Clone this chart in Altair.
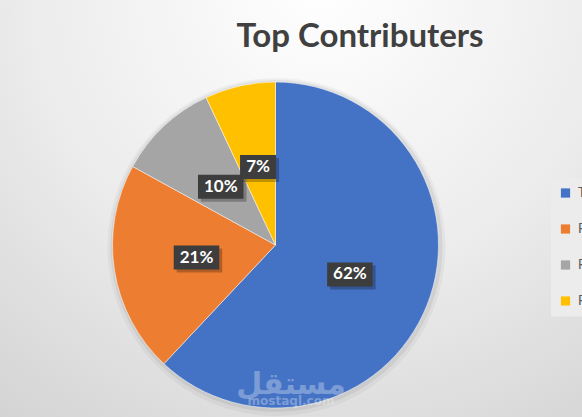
import math
import altair as alt
import pandas as pd

TITLE = "Top Contributers"
CATEGORIES = ["Team", "Freelancer A", "Freelancer B", "Freelancer C"]
VALUES = [62, 21, 10, 7]
COLORS = ["#4472C4", "#ED7D31", "#A5A5A5", "#FFC000"]
WATERMARK_AR = "مستقل"
WATERMARK_EN = "mostaql.com"

W, H = 582, 417
CX, CY, R = 275.5, 245, 163
LABEL_R = 80
FONT = "Lato"

df = pd.DataFrame({"category": CATEGORIES, "value": VALUES, "order": list(range(len(VALUES)))})
one = pd.DataFrame({"k": [0]})

bg = alt.Chart(one).mark_rect(
    color={
        "gradient": "radial",
        "stops": [
            {"offset": 0, "color": "#ffffff"},
            {"offset": 0.5, "color": "#ececec"},
            {"offset": 1, "color": "#cfcfcf"},
        ],
        "x1": 0.55, "y1": 0.12, "r1": 0,
        "x2": 0.55, "y2": 0.12, "r2": 1.0,
    }
).encode(x=alt.value(0), x2=alt.value(W), y=alt.value(0), y2=alt.value(H))

shadow1 = alt.Chart(one).mark_arc(
    theta=0, theta2=2 * math.pi, outerRadius=R + 6, color="#000000", opacity=0.04
).encode(x=alt.value(CX + 1), y=alt.value(CY + 2))
shadow2 = alt.Chart(one).mark_arc(
    theta=0, theta2=2 * math.pi, outerRadius=R + 3, color="#000000", opacity=0.06
).encode(x=alt.value(CX + 1), y=alt.value(CY + 1))

pie = alt.Chart(df).mark_arc(outerRadius=R, stroke="#ffffff", strokeWidth=0.5).encode(
    theta=alt.Theta("value:Q", stack=True),
    color=alt.Color(
        "category:N",
        scale=alt.Scale(domain=CATEGORIES, range=COLORS),
        sort=CATEGORIES,
        legend=alt.Legend(
            orient="none", legendX=551, legendY=178.5, title=None,
            symbolType="square", symbolSize=85, symbolStrokeWidth=0,
            labelFontSize=13, labelColor="#595959", labelFont=FONT,
            rowPadding=22, padding=8, fillColor="#ececec", labelOffset=6,
        ),
    ),
    order=alt.Order("order:Q"),
    x=alt.value(CX),
    y=alt.value(CY),
)

labels = alt.Chart(df).transform_window(
    cum="sum(value)", sort=[alt.SortField("order")], frame=[None, 0]
).transform_joinaggregate(
    total="sum(value)"
).transform_calculate(
    ang="2*PI*(datum.cum - datum.value/2)/datum.total",
    pct="format(datum.value/datum.total, '.0%')",
).transform_calculate(
    lx=f"{CX} + {LABEL_R}*sin(datum.ang)",
    ly=f"{CY} - {LABEL_R}*cos(datum.ang)",
    bw="length(datum.pct)*9.5 + 17",
).transform_calculate(
    bx1="datum.lx - datum.bw/2",
    bx2="datum.lx + datum.bw/2",
    by1="datum.ly - 12",
    by2="datum.ly + 12",
    sx1="datum.lx - datum.bw/2 + 3",
    sx2="datum.lx + datum.bw/2 + 3",
    sy1="datum.ly - 12 + 3",
    sy2="datum.ly + 12 + 3",
)

box_shadow = labels.mark_rect(color="#000000", opacity=0.25).encode(
    x=alt.X("sx1:Q", scale=None, axis=None), x2="sx2:Q",
    y=alt.Y("sy1:Q", scale=None, axis=None), y2="sy2:Q",
)
boxes = labels.mark_rect(color="#3d3d3d").encode(
    x=alt.X("bx1:Q", scale=None, axis=None), x2="bx2:Q",
    y=alt.Y("by1:Q", scale=None, axis=None), y2="by2:Q",
)
texts = labels.mark_text(font=FONT, fontWeight="bold", fontSize=17, color="#ffffff",
                         baseline="middle", align="center").encode(
    x=alt.X("lx:Q", scale=None, axis=None),
    y=alt.Y("ly:Q", scale=None, axis=None),
    text="pct:N",
)

title = alt.Chart(pd.DataFrame({"t": [TITLE]})).mark_text(
    font=FONT, fontWeight="bold", fontSize=33, color="#404040", align="center", baseline="alphabetic"
).encode(x=alt.value(360), y=alt.value(47), text="t:N")

wm = alt.Chart(pd.DataFrame({"t": [WATERMARK_AR, WATERMARK_EN], "s": [0, 1]})).mark_text(
    font="DejaVu Sans", fontWeight="bold", color="#ffffff", opacity=0.3, align="center",
    baseline="alphabetic"
).encode(
    x=alt.value(291),
    y=alt.Y("s:O", scale=alt.Scale(range=[388, 411]), axis=None),
    size=alt.Size("s:O", scale=alt.Scale(range=[30, 12]), legend=None),
    text="t:N",
)

chart = alt.layer(bg, shadow1, shadow2, pie, box_shadow, boxes, texts, title, wm).resolve_scale(
    y="independent", size="independent"
).properties(
    width=W, height=H, padding=0, autosize=alt.AutoSizeParams(type="none"), background="#e0e0e0"
).configure_view(stroke=None)

chart.save("out.html", embed_options={"renderer": "svg", "actions": False})
